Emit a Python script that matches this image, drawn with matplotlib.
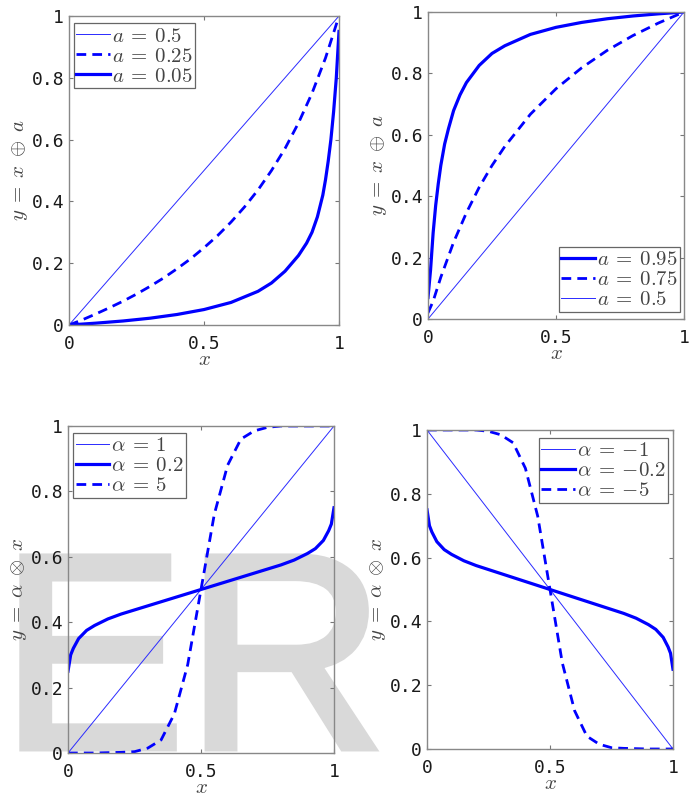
import matplotlib
matplotlib.use('Agg')
import matplotlib.pyplot as plt
import matplotlib.patheffects as pe

plt.rcParams['mathtext.fontset'] = 'cm'

# ---- data ----
# top left: y = x (+) a
x_tl_05 = [0, 1]
y_tl_05 = [0, 1]
x_tl_025 = [0, 0.05, 0.1, 0.15, 0.2, 0.25, 0.3, 0.35, 0.4, 0.45, 0.5, 0.55, 0.6, 0.65,
            0.7, 0.75, 0.8, 0.85, 0.9, 0.95, 1.0]
y_tl_025 = [0, 0.017, 0.036, 0.056, 0.077, 0.1, 0.125, 0.152, 0.182, 0.214, 0.25, 0.289,
            0.333, 0.382, 0.437, 0.5, 0.571, 0.654, 0.75, 0.864, 1.0]
x_tl_005 = [0, 0.1, 0.2, 0.3, 0.4, 0.5, 0.6, 0.7, 0.75, 0.8, 0.85, 0.88, 0.9, 0.92, 0.94,
            0.95, 0.96, 0.97, 0.98, 0.99, 1.0]
y_tl_005 = [0, 0.006, 0.013, 0.022, 0.034, 0.05, 0.073, 0.109, 0.136, 0.174, 0.225, 0.265,
            0.3, 0.35, 0.42, 0.47, 0.53, 0.6, 0.69, 0.8, 0.95]

# top right
x_tr_095 = [0, 0.01, 0.02, 0.03, 0.04, 0.05, 0.065, 0.08, 0.1, 0.125, 0.15, 0.2, 0.25,
            0.3, 0.4, 0.5, 0.6, 0.7, 0.8, 0.9, 1.0]
y_tr_095 = [0.07, 0.16, 0.28, 0.37, 0.44, 0.5, 0.57, 0.62, 0.679, 0.73, 0.77, 0.826, 0.865,
            0.89, 0.927, 0.95, 0.966, 0.978, 0.987, 0.994, 1.0]
x_tr_075 = [0, 0.02, 0.05, 0.1, 0.15, 0.2, 0.25, 0.3, 0.4, 0.5, 0.6, 0.7, 0.8, 0.9, 1.0]
y_tr_075 = [0.02, 0.058, 0.136, 0.25, 0.346, 0.429, 0.5, 0.562, 0.667, 0.75, 0.818,
            0.875, 0.923, 0.964, 1.0]
x_tr_05 = [0, 1]
y_tr_05 = [0, 1]

# bottom left: y = alpha (x) x
x_bl_1 = [0, 1]
y_bl_1 = [0, 1]
x_bl_02 = [0, 0.01, 0.02, 0.04, 0.07, 0.1, 0.15, 0.2, 0.3, 0.4, 0.5, 0.6, 0.7, 0.8,
           0.85, 0.9, 0.93, 0.96, 0.98, 0.99, 1.0]
y_bl_02 = [0.25, 0.3, 0.32, 0.35, 0.375, 0.39, 0.41, 0.425, 0.45, 0.475, 0.5, 0.525,
           0.55, 0.575, 0.59, 0.61, 0.625, 0.65, 0.68, 0.7, 0.75]
x_bl_5 = [0, 0.1, 0.2, 0.25, 0.3, 0.35, 0.4, 0.45, 0.5, 0.55, 0.6, 0.65, 0.7, 0.75, 0.8,
          0.9, 1.0]
y_bl_5 = [0, 0, 0.002, 0.004, 0.015, 0.04, 0.12, 0.27, 0.5, 0.73, 0.88, 0.96, 0.985,
          0.996, 1.0, 1.0, 1.0]

# bottom right
x_br_m1 = [0, 1]
y_br_m1 = [1, 0]
x_br_m02 = [0, 0.01, 0.02, 0.04, 0.07, 0.1, 0.15, 0.2, 0.3, 0.4, 0.5, 0.6, 0.7, 0.8,
            0.85, 0.9, 0.93, 0.96, 0.98, 0.99, 1.0]
y_br_m02 = [0.75, 0.7, 0.68, 0.65, 0.625, 0.61, 0.59, 0.575, 0.55, 0.525, 0.5, 0.475,
            0.45, 0.425, 0.41, 0.39, 0.375, 0.35, 0.32, 0.3, 0.25]
x_br_m5 = [0, 0.1, 0.2, 0.25, 0.3, 0.35, 0.4, 0.45, 0.5, 0.55, 0.6, 0.65, 0.7, 0.75, 0.8,
           0.9, 1.0]
y_br_m5 = [1.0, 1.0, 1.0, 0.996, 0.985, 0.96, 0.88, 0.73, 0.5, 0.27, 0.12, 0.04, 0.015,
           0.004, 0.002, 0, 0]

xticks = [0, 0.5, 1]
xticklabels = ['0', '0.5', '1']
yticks = [0, 0.2, 0.4, 0.6, 0.8, 1]
yticklabels = ['0', '0.2', '0.4', '0.6', '0.8', '1']

BLUE = '#0000ff'
thin = dict(color='#2a2aff', lw=0.7)
thick = dict(color=BLUE, lw=2.3)
dash = dict(color=BLUE, lw=2.0, ls=(0, (3.5, 2.2)))

fig = plt.figure(figsize=(6.98, 7.96), dpi=100)

# watermark behind the axes
fig.text(0.0, 1 - 748 / 796, 'ER', fontsize=200, family='Liberation Sans',
         color='#d9d9d9', zorder=-1, va='baseline', ha='left',
         path_effects=[pe.withStroke(linewidth=5, foreground='#d9d9d9',
                                     joinstyle='miter')])


def setup(ax, ylabel):
    ax.set_facecolor('none')
    ax.set_xlim(0, 1)
    ax.set_ylim(0, 1)
    ax.set_xticks(xticks)
    ax.set_xticklabels(xticklabels)
    ax.set_yticks(yticks)
    ax.set_yticklabels(yticklabels)
    ax.tick_params(direction='in', length=3, color='#777777', top=True, right=True,
                   labelsize=13)
    ax.tick_params(axis='x', pad=7)
    ax.tick_params(axis='y', pad=3.5)
    for lab in ax.get_xticklabels() + ax.get_yticklabels():
        lab.set_family('DejaVu Sans Mono')
        lab.set_color('#1a1a1a')
    for sp in ax.spines.values():
        sp.set_color('#888888')
        sp.set_linewidth(1.0)
    ax.set_xlabel(r'$x$', fontsize=15, labelpad=-3, color='#444444')
    ax.set_ylabel(ylabel, fontsize=15, labelpad=1, color='#444444')


def leg(ax, loc, anchor):
    lg = ax.legend(loc=loc, bbox_to_anchor=anchor, borderaxespad=0, fontsize=15,
                   handlelength=1.6, handletextpad=0.1, borderpad=0.12,
                   labelspacing=0.0, fancybox=False, framealpha=1)
    lg.get_frame().set_edgecolor('#666666')
    lg.get_frame().set_linewidth(0.9)
    for t in lg.get_texts():
        t.set_color('#444444')


ax1 = fig.add_axes([69 / 698, 1 - 325 / 796, 270 / 698, 309 / 796])
ax1.plot(x_tl_05, y_tl_05, label=r'$a\:=\:0.5$', **thin)
ax1.plot(x_tl_025, y_tl_025, label=r'$a\:=\:0.25$', **dash)
ax1.plot(x_tl_005, y_tl_005, label=r'$a\:=\:0.05$', **thick)
setup(ax1, r'$y\;=\;x\;\oplus\;a$')
leg(ax1, 'upper left', (0.0185, 0.977))

ax2 = fig.add_axes([428 / 698, 1 - 319 / 796, 256 / 698, 307 / 796])
ax2.plot(x_tr_095, y_tr_095, label=r'$a\:=\:0.95$', **thick)
ax2.plot(x_tr_075, y_tr_075, label=r'$a\:=\:0.75$', **dash)
ax2.plot(x_tr_05, y_tr_05, label=r'$a\:=\:0.5$', **thin)
setup(ax2, r'$y\;=\;x\;\oplus\;a$')
leg(ax2, 'lower right', (0.984, 0.023))

ax3 = fig.add_axes([68 / 698, 1 - 753 / 796, 266 / 698, 327 / 796])
ax3.plot(x_bl_1, y_bl_1, label=r'$\alpha\:=\:1$', **thin)
ax3.plot(x_bl_02, y_bl_02, label=r'$\alpha\:=\:0.2$', **thick)
ax3.plot(x_bl_5, y_bl_5, label=r'$\alpha\:=\:5$', **dash)
setup(ax3, r'$y\;=\;\alpha\;\otimes\;x$')
leg(ax3, 'upper left', (0.019, 0.979))

ax4 = fig.add_axes([427 / 698, 1 - 749 / 796, 246 / 698, 319 / 796])
ax4.plot(x_br_m1, y_br_m1, label=r'$\alpha\:=\:{-1}$', **thin)
ax4.plot(x_br_m02, y_br_m02, label=r'$\alpha\:=\:{-0.2}$', **thick)
ax4.plot(x_br_m5, y_br_m5, label=r'$\alpha\:=\:{-5}$', **dash)
setup(ax4, r'$y\;=\;\alpha\;\otimes\;x$')
leg(ax4, 'upper right', (0.98, 0.975))

fig.savefig('out.png', dpi=100)
